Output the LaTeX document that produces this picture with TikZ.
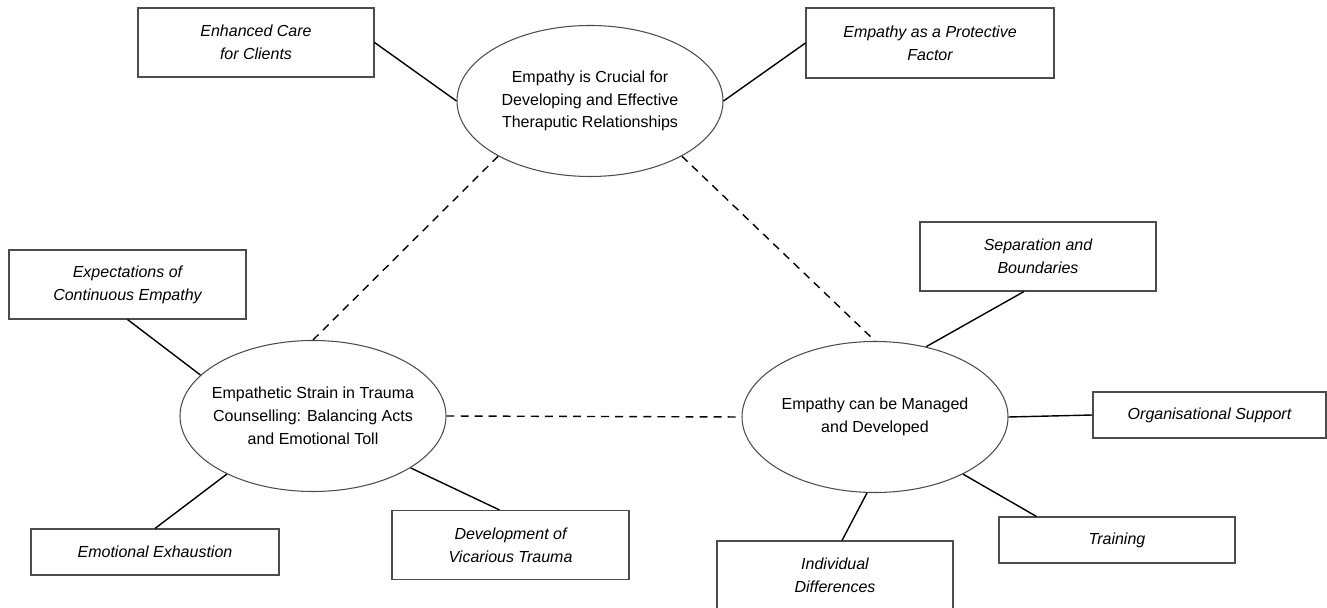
\documentclass[tikz,border=0pt]{standalone}
\usepackage{fontspec}
\setmainfont{Liberation Sans}
\usetikzlibrary{shapes.geometric,calc}

\begin{document}
\begin{tikzpicture}[font=\fontsize{9.1}{13}\selectfont,
  theme/.style={ellipse,draw=black!70,line width=0.6pt,minimum width=5.32cm,minimum height=3.02cm,inner xsep=-0.2cm,inner ysep=0pt,align=center},
  sub/.style={draw=black!70,line width=0.6pt,minimum width=4.72cm,minimum height=1.38cm,inner sep=0pt,align=center,font=\fontsize{9.1}{13}\selectfont\itshape},
  link/.style={line width=0.8pt},
  tie/.style={line width=0.8pt,dash pattern=on 4.5pt off 3.5pt}]
  \useasboundingbox (0,0) rectangle (26.54,12.16);
  \node[theme] (crucial) at (11.80,10.14) {Empathy is Crucial for\\Developing and Effective\\Theraputic Relationships};
  \node[theme] (strain) at (6.26,3.84) {Empathetic Strain in Trauma\\Counselling: Balancing Acts\\and Emotional Toll};
  \node[theme] (manage) at (17.50,3.82) {Empathy can be Managed\\and Developed};
  \node[sub] (care) at (5.12,11.31) {Enhanced Care\\for Clients};
  \node[sub,minimum width=4.96cm,minimum height=1.40cm] (protect) at (18.60,11.30) {Empathy as a Protective\\Factor};
  \node[sub,minimum width=4.74cm] (expect) at (2.55,6.47) {Expectations of\\Continuous Empathy};
  \node[sub,minimum width=4.96cm,minimum height=0.92cm] (exhaust) at (3.10,1.12) {Emotional Exhaustion};
  \node[sub,minimum width=4.74cm] (vicar) at (10.21,1.26) {Development of\\Vicarious Trauma};
  \node[sub] (separ) at (20.76,7.03) {Separation and\\Boundaries};
  \node[sub,minimum width=4.66cm,minimum height=0.92cm] (orgsup) at (24.19,3.86) {Organisational Support};
  \node[sub,minimum height=0.92cm] (train) at (22.34,1.36) {Training};
  \node[sub] (indiv) at (16.70,0.65) {Individual\\Differences};
  \draw[link] (care.east) -- (crucial.west);
  \draw[link] (protect.west) -- (crucial.east);
  \draw[link] (expect.south) -- (strain.160);
  \draw[link] (exhaust.north) -- (strain.214);
  \draw[link] (strain.332) -- ([xshift=-0.22cm]vicar.north);
  \draw[link] (manage.54) -- ([xshift=-0.28cm]separ.south);
  \draw[link] (manage.east) -- (orgsup.west);
  \draw[link] (manage.327) -- ([xshift=0.76cm]train.north west);
  \draw[link] (manage.264) -- ([xshift=0.14cm]indiv.north);
  \draw[tie] (crucial.211) -- (strain.north);
  \draw[tie] (crucial.329) -- (manage.north);
  \draw[tie] (strain.east) -- (manage.west);
\end{tikzpicture}
\end{document}
